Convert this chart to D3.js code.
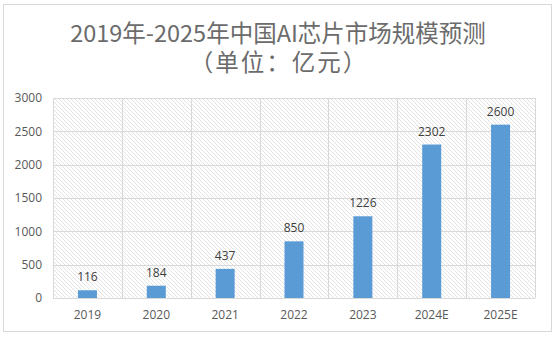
<!DOCTYPE html>
<html>
<head>
<meta charset="utf-8">
<script src="https://cdn.jsdelivr.net/npm/d3@7"></script>
<style>
  html, body { margin: 0; padding: 0; background: #fff; }
  svg { display: block; }
</style>
</head>
<body>
<svg id="chart" width="556" height="337"></svg>
<script>
// Market size of China's AI chips, 2019–2025 (unit: 100 million yuan)
const categories = ["2019", "2020", "2021", "2022", "2023", "2024E", "2025E"];
const values = [116, 184, 437, 850, 1226, 2302, 2600];
const yTicks = [0, 500, 1000, 1500, 2000, 2500, 3000];
const titleLines = ["2019年-2025年中国AI芯片市场规模预测", "（单位：亿元）"];

const W = 556, H = 337;
const margin = { left: 53, right: 21, top: 98, bottom: 39 };
const svg = d3.select("#chart");
const font = "'Open Sans', 'Noto Sans CJK SC', sans-serif";
const titleFont = "'Noto Sans CJK SC', sans-serif";

// outer chart frame
svg.append("rect")
  .attr("x", 3.5).attr("y", 4.5)
  .attr("width", 548).attr("height", 327)
  .attr("fill", "#fff").attr("stroke", "#d9d9d9").attr("stroke-width", 1);

// diagonal hatch for the plot area
const defs = svg.append("defs");
const pat = defs.append("pattern")
  .attr("id", "hatch").attr("patternUnits", "userSpaceOnUse")
  .attr("width", 4).attr("height", 4);
pat.append("path")
  .attr("d", "M-1,-1 L5,5 M-1,3 L1,5 M3,-1 L5,1")
  .attr("stroke", "#e3e3e3").attr("stroke-width", 1);

const x = d3.scaleBand()
  .domain(categories)
  .range([margin.left, W - margin.right])
  .paddingInner(0).paddingOuter(0);

const y = d3.scaleLinear()
  .domain([0, 3000])
  .range([H - margin.bottom, margin.top]);

const g = svg.append("g");

g.append("rect")
  .attr("x", margin.left).attr("y", margin.top)
  .attr("width", W - margin.right - margin.left)
  .attr("height", H - margin.bottom - margin.top)
  .attr("fill", "url(#hatch)");

// horizontal gridlines
g.append("g")
  .selectAll("line")
  .data(yTicks)
  .join("line")
  .attr("x1", margin.left).attr("x2", W - margin.right)
  .attr("y1", d => Math.round(y(d)) + 0.5)
  .attr("y2", d => Math.round(y(d)) + 0.5)
  .attr("stroke", "#d9d9d9");

// vertical gridlines at category boundaries
const bounds = categories.map(c => x(c)).concat([x.range()[1]]);
g.append("g")
  .selectAll("line")
  .data(bounds)
  .join("line")
  .attr("x1", d => Math.round(d) + 0.5).attr("x2", d => Math.round(d) + 0.5)
  .attr("y1", margin.top).attr("y2", H - margin.bottom)
  .attr("stroke", "#d9d9d9");

// y axis labels
const yAxis = d3.axisLeft(y).tickValues(yTicks).tickFormat(d3.format("d"))
  .tickSize(0).tickPadding(11);
const ya = svg.append("g")
  .attr("transform", `translate(${margin.left},0)`)
  .call(yAxis);
ya.select(".domain").remove();
ya.selectAll("text")
  .attr("font-family", font).attr("font-size", 12).attr("fill", "#595959");

// x axis labels
const xAxis = d3.axisBottom(x).tickSize(0).tickPadding(12);
const xa = svg.append("g")
  .attr("transform", `translate(0,${H - margin.bottom})`)
  .call(xAxis);
xa.select(".domain").remove();
xa.selectAll("text")
  .attr("font-family", font).attr("font-size", 12).attr("fill", "#595959");

// bars
const barW = 19;
g.append("g")
  .selectAll("rect")
  .data(values)
  .join("rect")
  .attr("x", (d, i) => x(categories[i]) + x.bandwidth() / 2 - barW / 2)
  .attr("y", d => y(d))
  .attr("width", barW)
  .attr("height", d => y(0) - y(d))
  .attr("fill", "#5b9bd5");

// value labels
g.append("g")
  .selectAll("text")
  .data(values)
  .join("text")
  .attr("x", (d, i) => x(categories[i]) + x.bandwidth() / 2)
  .attr("y", d => y(d) - 9)
  .attr("text-anchor", "middle")
  .attr("font-family", font).attr("font-size", 12).attr("fill", "#404040")
  .text(d => d);

// two-line title
svg.append("g")
  .selectAll("text")
  .data(titleLines)
  .join("text")
  .attr("x", (d, i) => i === 0 ? 278 : 279)
  .attr("y", (d, i) => 42 + i * 29)
  .attr("text-anchor", "middle")
  .attr("letter-spacing", (d, i) => i === 0 ? 0 : 2)
  .attr("font-family", titleFont).attr("font-size", 23.5).attr("fill", "#6b6b6b")
  .text(d => d);
</script>
</body>
</html>
